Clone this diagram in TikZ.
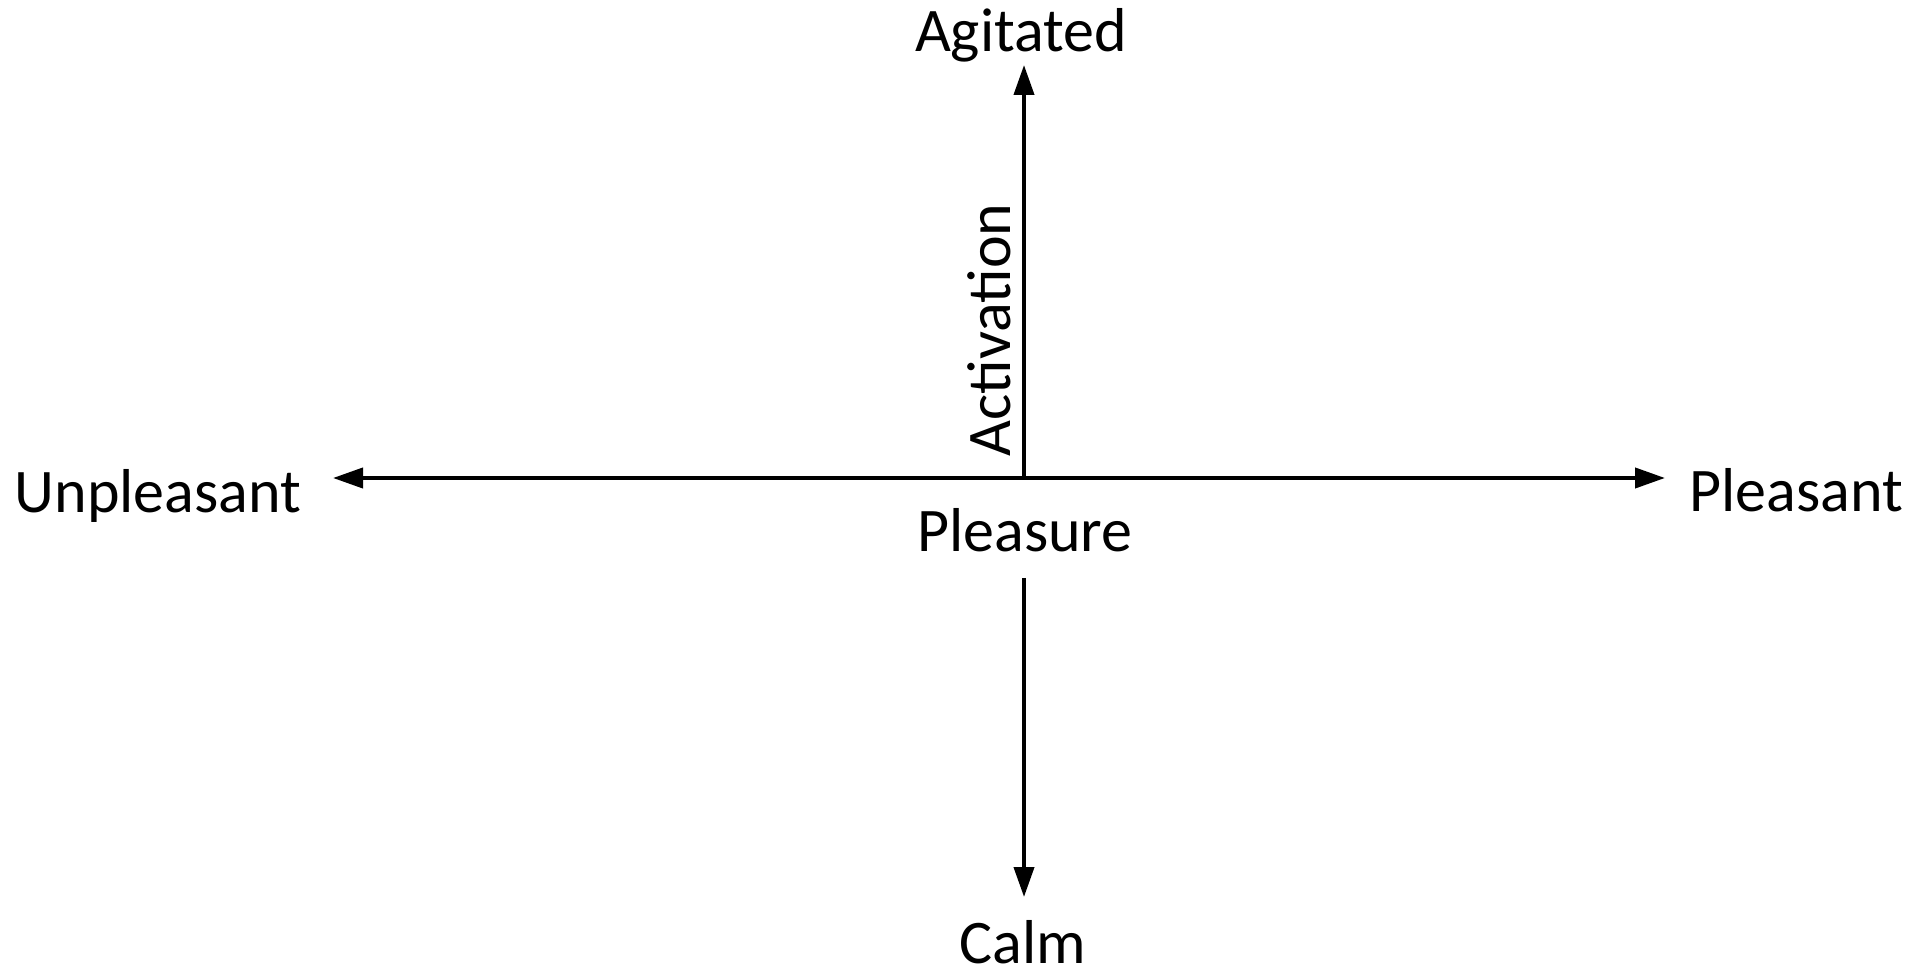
\documentclass[tikz,border=0pt]{standalone}
\usepackage{fontspec}
\setmainfont{Carlito}
\usetikzlibrary{arrows.meta}
\begin{document}
\begin{tikzpicture}[x=0.5pt,y=-0.5pt,
  axis/.style={line width=2pt,-{Triangle[length=15pt,width=10pt]}},
  lbl/.style={anchor=base,inner sep=0pt,font=\fontsize{31}{37}\selectfont}]
\useasboundingbox (0,0) rectangle (1928,972);
% axis end points
\coordinate (o) at (1024,478);
\coordinate (west) at (333,478);
\coordinate (east) at (1665,478);
\coordinate (north) at (1024,65);
\coordinate (gap) at (1024,578);
\coordinate (south) at (1024,897);
% axes
\draw[axis,{Triangle[length=15pt,width=10pt]}-{Triangle[length=15pt,width=10pt]}] (west) -- (east);
\draw[axis] (o) -- (north);
\draw[axis] (gap) -- (south);
% labels
\node[lbl] (agitated) at (1021,52) {Agitated};
\node[lbl] (unpleasant) at (158,513) {Unpleasant};
\node[lbl] (pleasant) at (1796,512) {Pleasant};
\node[lbl] (pleasure) at (1025,552) {Pleasure};
\node[lbl,text depth=0pt] (calm) at (1023,963) {Calm};
\node[lbl,rotate=90] (activation) at (1010,330) {Activation};
\end{tikzpicture}
\end{document}
